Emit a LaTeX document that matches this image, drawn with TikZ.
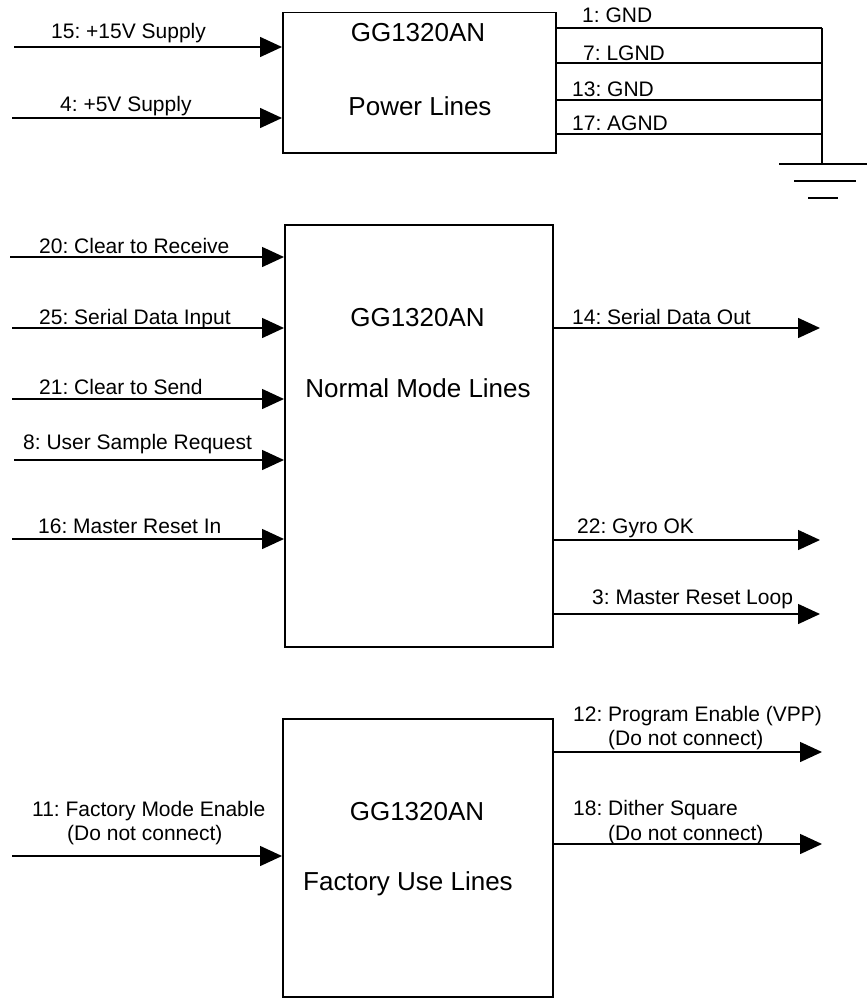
\documentclass[tikz,border=0pt]{standalone}
\usepackage{fontspec}
\setmainfont{Liberation Sans}
\usetikzlibrary{arrows.meta}
\begin{document}
\frenchspacing
\begin{tikzpicture}[x=1pt,y=-1pt,
  wire/.style={line width=1.5pt},
  arr/.style={wire,-{Triangle[length=22pt,width=20pt]}},
  box/.style={draw,line width=1.5pt,rectangle,inner sep=0pt,anchor=north west},
  lbl/.style={anchor=base west,inner sep=0pt,font=\frenchspacing\fontsize{21}{25}\selectfont},
  ttl/.style={anchor=base,inner sep=0pt,font=\frenchspacing\fontsize{26}{31}\selectfont}]
\useasboundingbox (0,0) rectangle (867,998);

% ---------- boxes ----------
\node[box,minimum width=273pt,minimum height=140pt] (pwr) at (282,12) {};
\node[box,minimum width=268pt,minimum height=422pt] (nm) at (284,224) {};
\node[box,minimum width=270pt,minimum height=278pt] (fac) at (282,718) {};

% ---------- titles ----------
\node[ttl] (pwrA) at (418,42) {GG1320AN};
\node[ttl] (pwrB) at (420,115) {Power Lines};
\node[ttl] (nmA) at (417.5,326) {GG1320AN};
\node[ttl] (nmB) at (418,397) {Normal Mode Lines};
\node[ttl] (facA) at (417,820) {GG1320AN};
\node[ttl] (facB) at (408,890) {Factory Use Lines};

% ---------- power inputs ----------
\coordinate (p15) at (14,47);
\coordinate (p4) at (12,118);
\draw[arr] (p15) -- (p15 -| pwr.west);
\draw[arr] (p4) -- (p4 -| pwr.west);
\node[lbl] (l15) at (51,39) {15: +15V Supply};
\node[lbl] (l4) at (60,111) {4: +5V Supply};

% ---------- ground lines ----------
\coordinate (g1) at (822,28);
\coordinate (g7) at (822,63);
\coordinate (g13) at (822,100);
\coordinate (g17) at (822,134);
\coordinate (gnd) at (822,164);
\draw[wire] (g1 -| pwr.east) -- (g1);
\draw[wire] (g7 -| pwr.east) -- (g7);
\draw[wire] (g13 -| pwr.east) -- (g13);
\draw[wire] (g17 -| pwr.east) -- (g17);
\draw[wire] (g1) -- (gnd);
\draw[wire] (gnd) ++(-43,0) -- ++(88,0);
\draw[wire] (gnd) ++(-28,17) -- ++(62,0);
\draw[wire] (gnd) ++(-14,34) -- ++(30,0);
\node[lbl] (l1) at (582,23) {1: GND};
\node[lbl] (l7) at (583,61) {7: LGND};
\node[lbl] (l13) at (572,96) {13: GND};
\node[lbl] (l17) at (572,130) {17: AGND};

% ---------- normal mode inputs ----------
\coordinate (n20) at (10,257);
\coordinate (n25) at (12,328);
\coordinate (n21) at (12,399);
\coordinate (n8) at (14,460);
\coordinate (n16) at (12,539);
\draw[arr] (n20) -- (n20 -| nm.west);
\draw[arr] (n25) -- (n25 -| nm.west);
\draw[arr] (n21) -- (n21 -| nm.west);
\draw[arr] (n8) -- (n8 -| nm.west);
\draw[arr] (n16) -- (n16 -| nm.west);
\node[lbl] (l20) at (39,253) {20: Clear to Receive};
\node[lbl] (l25) at (39,324) {25: Serial Data Input};
\node[lbl] (l21) at (39,394) {21: Clear to Send};
\node[lbl] (l8) at (23,449) {8: User Sample Request};
\node[lbl] (l16) at (38,533) {16: Master Reset In};

% ---------- normal mode outputs ----------
\coordinate (o14) at (820,328);
\coordinate (o22) at (820,540);
\coordinate (o3) at (820,614);
\draw[arr] (o14 -| nm.east) -- (o14);
\draw[arr] (o22 -| nm.east) -- (o22);
\draw[arr] (o3 -| nm.east) -- (o3);
\node[lbl] (l14) at (572,324) {14: Serial Data Out};
\node[lbl] (l22) at (577,533) {22: Gyro OK};
\node[lbl] (l3) at (592,604) {3: Master Reset Loop};

% ---------- factory ----------
\coordinate (f11) at (12,856);
\draw[arr] (f11) -- (f11 -| fac.west);
\node[lbl] (l11a) at (32,816) {11: Factory Mode Enable};
\node[lbl] (l11b) at (67,840) {(Do not connect)};

\coordinate (f12) at (822,752);
\coordinate (f18) at (822,844);
\draw[arr] (f12 -| fac.east) -- (f12);
\draw[arr] (f18 -| fac.east) -- (f18);
\node[lbl] (l12a) at (573,721) {12: Program Enable (VPP)};
\node[lbl] (l12b) at (608,745) {(Do not connect)};
\node[lbl] (l18a) at (573,815) {18: Dither Square};
\node[lbl] (l18b) at (608,840) {(Do not connect)};
\end{tikzpicture}
\end{document}
